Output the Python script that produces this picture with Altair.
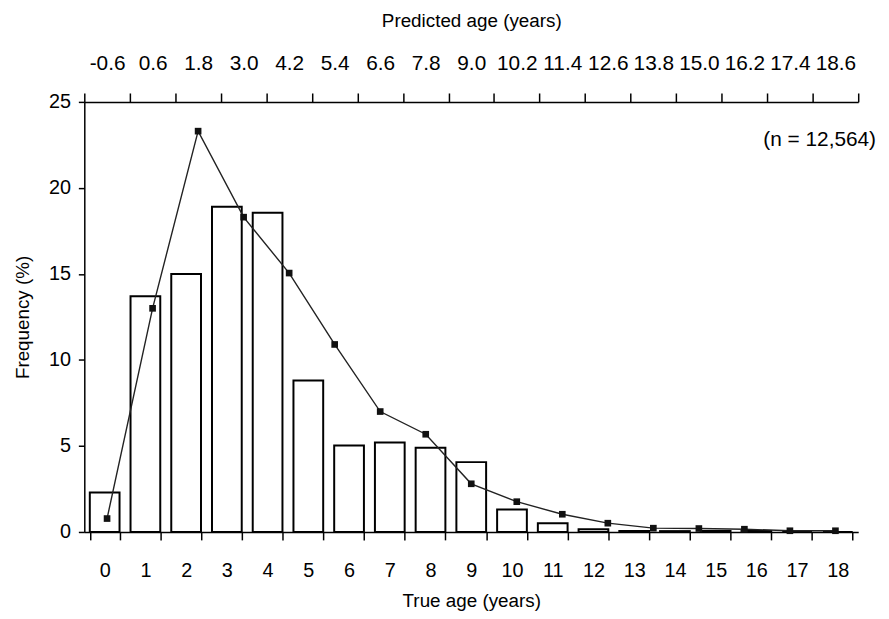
import altair as alt
import pandas as pd

true_age = [str(i) for i in range(19)]
true_freq = [2.3, 13.7, 15.0, 18.9, 18.55, 8.8, 5.03, 5.2, 4.9, 4.06, 1.3, 0.5, 0.16,
             0.05, 0.05, 0.05, 0.05, 0.0, 0.0]

pred_age = ["-0.6", "0.6", "1.8", "3.0", "4.2", "5.4", "6.6", "7.8", "9.0", "10.2",
            "11.4", "12.6", "13.8", "15.0", "16.2", "17.4", "18.6"]
pred_freq = [0.78, 13.0, 23.3, 18.3, 15.05, 10.9, 7.0, 5.68, 2.8, 1.76, 1.03, 0.51,
             0.22, 0.2, 0.16, 0.07, 0.07]

FONT = "Liberation Sans"

bars_df = pd.DataFrame({"true": true_age, "freq": true_freq})
line_df = pd.DataFrame({"pred": pred_age, "freq": pred_freq})

yenc = alt.Y("freq:Q", scale=alt.Scale(domain=[0, 25], nice=False),
             axis=alt.Axis(title="Frequency (%)", values=[0, 5, 10, 15, 20, 25],
                           grid=False, tickSize=6, labelPadding=8, titlePadding=16,
                           orient="left"))

bars = alt.Chart(bars_df).mark_bar(fill="white", stroke="black", strokeWidth=2).encode(
    x=alt.X("true:O", sort=true_age,
            scale=alt.Scale(paddingInner=0.27, paddingOuter=0.135),
            axis=alt.Axis(title="True age (years)", orient="bottom", labelAngle=0,
                          tickBand="extent", tickSize=8, labelPadding=21,
                          titlePadding=11)),
    y=yenc,
)

xtop = alt.X("pred:O", sort=pred_age,
             scale=alt.Scale(type="band", paddingInner=0, paddingOuter=0),
             bandPosition=0.5,
             axis=alt.Axis(title="Predicted age (years)", orient="top", labelAngle=0,
                           tickBand="extent", tickSize=9, labelPadding=20,
                           labelFontSize=21, titlePadding=22))

line = alt.Chart(line_df).mark_line(color="#222222", strokeWidth=1.4).encode(
    x=xtop, y=alt.Y("freq:Q"))
pts = alt.Chart(line_df).mark_point(shape="square", filled=True, color="#111111",
                                    size=45, opacity=1).encode(
    x=xtop, y=alt.Y("freq:Q"))

note = alt.Chart(pd.DataFrame({"t": ["(n = 12,564)"]})).mark_text(
    align="right", baseline="middle", font=FONT, fontSize=21, color="black"
).encode(text="t:N", x=alt.value(799), y=alt.value(38))

top = alt.layer(line, pts)

chart = alt.layer(bars, top, note).resolve_scale(x="independent").properties(
    width=781, height=434,
    autosize=alt.AutoSizeParams(type="none"),
    padding={"left": 77, "top": 92, "right": 23, "bottom": 77},
).configure(background="white").configure_view(stroke=None).configure_axis(
    domainColor="black", tickColor="black", labelColor="black", titleColor="black",
    labelFont=FONT, titleFont=FONT, labelFontSize=20, titleFontSize=19,
    titleFontWeight="normal", domainWidth=1.5, tickWidth=1.5,
)

chart.save("out.html", embed_options={"renderer": "svg", "actions": False})
